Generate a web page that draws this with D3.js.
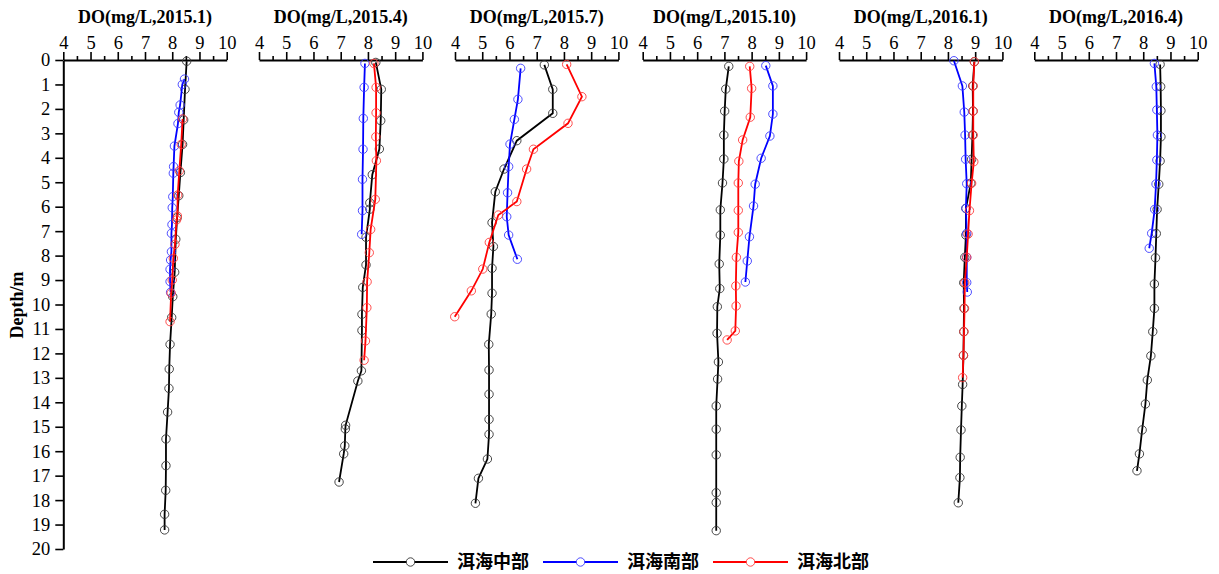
<!DOCTYPE html>
<html><head><meta charset="utf-8">
<script src="https://cdn.jsdelivr.net/npm/d3@7"></script>
<style>body{margin:0;background:#fff}</style>
</head><body><svg id="c" width="1219" height="574"></svg>
<script>
// ---- data ----
const panelTitles = ["DO(mg/L,2015.1)","DO(mg/L,2015.4)","DO(mg/L,2015.7)","DO(mg/L,2015.10)","DO(mg/L,2016.1)","DO(mg/L,2016.4)"];
const seriesNames = ["洱海中部","洱海南部","洱海北部"];
const seriesColors = ["#000000","#0000ff","#ff0000"];
const xTicks = [4,5,6,7,8,9,10];
const yTicks = [0,1,2,3,4,5,6,7,8,9,10,11,12,13,14,15,16,17,18,19,20];
// [depth (m), DO (mg/L)]
const mid_2015_1 = [[0.05,8.53],[1.2,8.47],[2.45,8.42],[3.45,8.38],[4.6,8.3],[5.55,8.24],[6.45,8.18],[7.33,8.13],[8.68,8.09],[9.68,8.02],[10.53,7.98],[11.63,7.92],[12.64,7.89],[13.43,7.88],[14.4,7.83],[15.5,7.77],[16.59,7.77],[17.6,7.76],[18.58,7.72],[19.22,7.72]];
const south_2015_1 = [[0.78,8.45],[1.0,8.37],[1.84,8.29],[2.14,8.24],[2.6,8.21],[3.52,8.08],[4.36,8.05],[4.63,8.04],[5.59,8.02],[6.04,8.0],[6.73,7.99],[7.09,7.97],[7.84,7.97],[8.18,7.94],[8.56,7.92],[9.06,7.92],[9.5,7.94]];
const north_2015_1 = [[2.41,8.38],[3.45,8.33],[4.53,8.26],[5.52,8.2],[6.38,8.19],[6.54,8.16],[7.54,8.1],[8.11,8.04],[9.0,8.0],[9.54,7.96],[10.7,7.92]];
const mid_2015_4 = [[0.1,8.29],[1.2,8.49],[2.48,8.47],[3.64,8.42],[4.69,8.16],[5.84,8.07],[6.1,8.07],[7.25,7.93],[8.38,7.93],[9.3,7.81],[10.4,7.78],[11.06,7.78],[12.71,7.76],[13.13,7.63],[14.94,7.18],[15.09,7.17],[15.78,7.15],[16.11,7.11],[17.26,6.94]];
const south_2015_4 = [[0.14,7.89],[1.12,7.86],[2.39,7.83],[3.65,7.82],[4.88,7.8],[6.16,7.8],[7.13,7.77]];
const north_2015_4 = [[0.14,8.22],[1.12,8.3],[2.16,8.3],[3.14,8.29],[4.12,8.31],[5.7,8.27],[6.93,8.1],[7.88,8.05],[9.07,7.97],[10.13,7.96],[11.49,7.91],[12.28,7.86]];
const mid_2015_7 = [[0.2,7.28],[1.2,7.59],[2.18,7.59],[3.3,6.27],[4.46,5.8],[5.39,5.48],[6.65,5.36],[7.63,5.41],[8.52,5.36],[9.54,5.36],[10.39,5.33],[11.63,5.24],[12.68,5.25],[13.67,5.25],[14.7,5.25],[15.31,5.25],[16.32,5.19],[17.11,4.86],[18.13,4.75]];
const south_2015_7 = [[0.34,6.41],[1.61,6.31],[2.43,6.18],[3.44,6.02],[4.36,5.97],[5.43,5.93],[6.41,5.9],[7.16,5.97],[8.15,6.29]];
const north_2015_7 = [[0.18,8.1],[1.5,8.66],[2.59,8.15],[3.65,6.88],[4.46,6.63],[5.79,6.27],[6.34,5.59],[7.46,5.26],[8.55,5.02],[9.44,4.6],[10.5,3.99]];
const mid_2015_10 = [[0.26,7.16],[1.19,7.05],[2.09,7.01],[3.07,6.98],[4.05,6.98],[5.03,6.93],[6.13,6.85],[7.16,6.85],[8.34,6.81],[9.35,6.83],[10.09,6.74],[11.18,6.73],[12.35,6.78],[13.05,6.75],[14.15,6.7],[15.1,6.7],[16.15,6.7],[17.7,6.7],[18.1,6.7],[19.25,6.7]];
const south_2015_10 = [[0.23,8.52],[1.06,8.78],[2.21,8.78],[3.11,8.67],[4.02,8.35],[5.08,8.13],[5.97,8.07],[7.23,7.92],[8.22,7.84],[9.08,7.77]];
const north_2015_10 = [[0.26,7.93],[1.16,8.0],[2.34,7.95],[3.27,7.67],[4.14,7.53],[5.03,7.51],[6.15,7.51],[7.05,7.51],[8.07,7.44],[9.24,7.42],[10.06,7.43],[11.08,7.4],[11.45,7.1]];
const mid_2016_1 = [[0.07,8.97],[1.06,8.91],[2.09,8.92],[3.07,8.9],[4.06,8.87],[5.04,8.84],[6.07,8.66],[7.16,8.66],[8.07,8.62],[9.11,8.58],[10.16,8.59],[11.11,8.58],[12.08,8.57],[13.27,8.54],[14.15,8.51],[15.13,8.48],[16.25,8.45],[17.08,8.44],[18.11,8.38]];
const south_2016_1 = [[0.03,8.22],[1.06,8.53],[2.13,8.6],[3.07,8.63],[4.06,8.65],[5.06,8.69],[6.07,8.66],[7.09,8.69],[8.07,8.69],[9.1,8.69],[9.49,8.71]];
const north_2016_1 = [[0.07,8.97],[1.06,8.93],[2.09,8.93],[3.07,8.93],[4.16,8.95],[5.04,8.87],[6.16,8.79],[7.12,8.74],[8.07,8.69],[9.11,8.62],[10.16,8.61],[11.11,8.59],[12.08,8.57],[12.99,8.54]];
const mid_2016_4 = [[0.18,8.62],[1.09,8.64],[2.07,8.65],[3.14,8.65],[4.13,8.62],[5.08,8.57],[6.11,8.51],[7.1,8.48],[8.09,8.45],[9.16,8.41],[10.16,8.41],[11.11,8.35],[12.1,8.28],[13.09,8.15],[14.07,8.08],[15.13,7.96],[16.11,7.86],[16.8,7.77]];
const south_2016_4 = [[0.14,8.41],[1.09,8.48],[2.04,8.5],[3.07,8.52],[4.09,8.5],[5.07,8.47],[6.11,8.42],[7.09,8.31],[7.7,8.22]];
const north_2016_4 = [];

const panelData = [
  [mid_2015_1, south_2015_1, north_2015_1],
  [mid_2015_4, south_2015_4, north_2015_4],
  [mid_2015_7, south_2015_7, north_2015_7],
  [mid_2015_10, south_2015_10, north_2015_10],
  [mid_2016_1, south_2016_1, north_2016_1],
  [mid_2016_4, south_2016_4, north_2016_4]
];

// ---- layout ----
const panelX = [63.3, 259, 455, 642.7, 839, 1034.3];
const panelW = 163.4;
const plotTop = 60, plotBottom = 549;
const svg = d3.select("#c");
const serif = "'Liberation Serif','Times New Roman',serif";
const yScale = d3.scaleLinear().domain([0,20]).range([plotTop,plotBottom]);
const circleStroke = ["#333333","#3a3aff","#ff3a3a"];

panelData.forEach((series, i) => {
  const g = svg.append("g").attr("transform", `translate(${panelX[i]},0)`);
  const x = d3.scaleLinear().domain([4,10]).range([0,panelW]);
  // minor ticks
  g.append("g").attr("transform",`translate(0,${plotTop})`)
    .call(d3.axisTop(x).tickValues(d3.range(4.5,10,1)).tickSize(4).tickFormat(""))
    .call(a=>a.selectAll("line").attr("stroke","#000").attr("stroke-width",1.6))
    .call(a=>a.select(".domain").remove());
  const ax = g.append("g").attr("transform",`translate(0,${plotTop})`)
    .call(d3.axisTop(x).tickValues(xTicks).tickSize(8).tickSizeOuter(0).tickPadding(3).tickFormat(d3.format("d")));
  ax.select(".domain").attr("stroke","#000").attr("stroke-width",2);
  ax.selectAll("line").attr("stroke","#000").attr("stroke-width",1.6);
  ax.selectAll("text").attr("font-family",serif).attr("font-size",18.5).attr("fill","#000");
  g.append("text").attr("x",panelW/2).attr("y",23).attr("text-anchor","middle")
    .attr("font-family",serif).attr("font-weight","bold").attr("font-size",18).text(panelTitles[i]);

  if (i === 0) {
    const ay = g.append("g").call(d3.axisLeft(yScale).tickValues(yTicks).tickSize(8).tickSizeOuter(0).tickPadding(5).tickFormat(d3.format("d")));
    ay.select(".domain").attr("stroke","#000").attr("stroke-width",2);
    ay.selectAll("line").attr("stroke","#000").attr("stroke-width",1.6);
    ay.selectAll("text").attr("font-family",serif).attr("font-size",18.5).attr("fill","#000");
  }

  const line = d3.line().x(d=>x(d[1])).y(d=>yScale(d[0]));
  series.forEach((data, s) => {
    if (!data.length) return;
    g.append("path").datum(data).attr("d",line).attr("fill","none")
      .attr("stroke",seriesColors[s]).attr("stroke-width",1.8);
    g.selectAll(null).data(data).enter().append("circle")
      .attr("cx",d=>x(d[1])).attr("cy",d=>yScale(d[0])).attr("r",4.2)
      .attr("fill","none").attr("stroke",circleStroke[s]).attr("stroke-width",0.9);
  });
});

svg.append("text").attr("transform","translate(23,305) rotate(-90)")
  .attr("text-anchor","middle").attr("font-family",serif).attr("font-weight","bold")
  .attr("font-size",18).text("Depth/m");

// legend
const legX = [373, 543, 713];
const legY = 562;
seriesNames.forEach((name, s) => {
  const lg = svg.append("g").attr("transform",`translate(${legX[s]},${legY})`);
  lg.append("line").attr("x1",0).attr("x2",75).attr("y1",0).attr("y2",0)
    .attr("stroke",seriesColors[s]).attr("stroke-width",1.8);
  lg.append("circle").attr("cx",37.5).attr("cy",0).attr("r",4.2).attr("fill","#fff")
    .attr("stroke",circleStroke[s]).attr("stroke-width",0.9);
  lg.append("text").attr("x",84).attr("y",0).attr("dy","0.36em")
    .attr("font-family","'Noto Sans CJK SC',sans-serif").attr("font-weight","bold")
    .attr("font-size",18).text(name);
});
</script></body></html>
